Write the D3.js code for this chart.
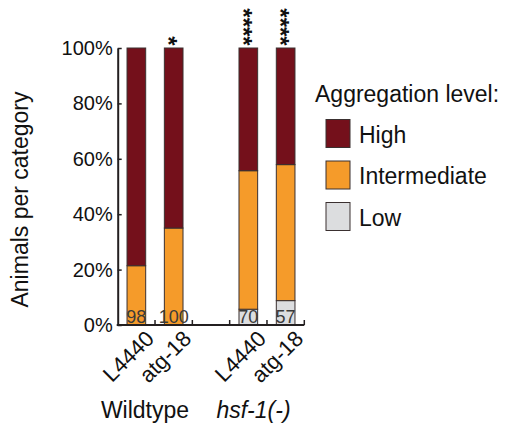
<!DOCTYPE html>
<html><head><meta charset="utf-8">
<script src="https://cdn.jsdelivr.net/npm/d3@7"></script>
<style>body{margin:0;background:#fff}svg{display:block}text{font-family:"Liberation Sans",Arial,sans-serif}</style>
</head><body><svg id="c" width="507" height="427"></svg>
<script>
const slots = ["WT-L4440","WT-atg-18","gap","hsf-L4440","hsf-atg-18"];
const barSlots = ["WT-L4440","WT-atg-18","hsf-L4440","hsf-atg-18"];
const categories = ["L4440","atg-18","L4440","atg-18"];
const groups = ["Wildtype","hsf-1(-)"];
const low = [0, 0, 5.7, 8.8];
const intermediate = [21.4, 35, 50, 49.1];
const high = [78.6, 65, 44.3, 42.1];
const counts = [98, 100, 70, 57];
const stars = ["", "*", "****", "****"];
const yTicks = [0, 20, 40, 60, 80, 100];
const levels = ["High","Intermediate","Low"];
const colors = {High:"#74101b", Intermediate:"#f59b2a", Low:"#dcdddf"};

const svg = d3.select("#c");
const x = d3.scaleBand().domain(slots).range([117.7, 304.3]).paddingInner(0.5).paddingOuter(0.25);
const y = d3.scaleLinear().domain([0, 100]).range([325, 48]);
const axisColor = "#231f20";

// stacked bars
const rows = barSlots.map((s, i) => ({slot: s, Low: low[i], Intermediate: intermediate[i], High: high[i]}));
const stack = d3.stack().keys(["Low","Intermediate","High"])(rows);
svg.append("g").selectAll("g").data(stack).join("g")
  .attr("fill", d => colors[d.key])
  .selectAll("rect").data(d => d.filter(p => p[1] - p[0] > 0)).join("rect")
  .attr("x", d => x(d.data.slot)).attr("width", x.bandwidth())
  .attr("y", d => y(d[1])).attr("height", d => y(d[0]) - y(d[1]))
  .attr("stroke", "#3a3030").attr("stroke-width", 1);

// counts
svg.append("g").selectAll("text").data(counts).join("text")
  .attr("x", (d, i) => x(barSlots[i]) + x.bandwidth() / 2).attr("y", 323)
  .attr("text-anchor", "middle").attr("font-size", 18).attr("fill", "#3a3a3a")
  .text(d => d);

// y axis
const yAxis = svg.append("g").attr("transform", "translate(117.7,0)")
  .call(d3.axisLeft(y).tickValues(yTicks).tickFormat(d => d + "%").tickSizeInner(-4).tickSizeOuter(0).tickPadding(5));
yAxis.select(".domain").attr("stroke", axisColor).attr("stroke-width", 2);
yAxis.selectAll(".tick line").attr("stroke", axisColor).attr("stroke-width", 1.5);
yAxis.selectAll(".tick text").attr("font-size", 20).attr("fill", "#111").attr("font-family", "Liberation Sans, Arial, sans-serif");

// x axis (ticks at slot boundaries, pointing up)
const step = x.step();
const x0 = x.range()[0];
const bounds = d3.range(slots.length + 1).map(k => x0 + k * step);
svg.append("line").attr("x1", x0 - 1).attr("x2", bounds[bounds.length - 1]).attr("y1", 325).attr("y2", 325)
  .attr("stroke", axisColor).attr("stroke-width", 2);
svg.append("g").selectAll("line").data(bounds.slice(1)).join("line")
  .attr("x1", d => d).attr("x2", d => d).attr("y1", 325).attr("y2", 320)
  .attr("stroke", axisColor).attr("stroke-width", 1.5);

// category labels
svg.append("g").selectAll("text").data(categories).join("text")
  .attr("transform", (d, i) => `translate(${x(barSlots[i]) + x.bandwidth() / 2 + 19},340) rotate(-45)`)
  .attr("text-anchor", "end").attr("font-size", 22).attr("fill", "#111").text(d => d);

// group labels
const gx = [145, 253.5];
svg.append("g").selectAll("text").data(groups).join("text")
  .attr("x", (d, i) => gx[i]).attr("y", 418).attr("text-anchor", "middle")
  .attr("font-size", 23).attr("fill", "#111")
  .attr("font-style", (d, i) => i === 1 ? "italic" : "normal").text(d => d);

// significance asterisks: stacked vertically as one rotated text
const starSize = 24, starAdv = 0.389 * starSize;
svg.append("g").selectAll("text").data(stars.map((s, i) => ({s, i})).filter(d => d.s.length)).join("text")
  .attr("transform", d => {
    const cx = x(barSlots[d.i]) + x.bandwidth() / 2;
    const top = 41 - (d.s.length - 1) * starAdv - starAdv / 2;
    return `translate(${cx - 0.575 * starSize},${top}) rotate(90)`;
  })
  .attr("font-size", starSize).attr("font-weight", "bold").attr("fill", "#111").text(d => d.s);

// y title
svg.append("text").attr("transform", "translate(28,199.5) rotate(-90)").attr("text-anchor", "middle")
  .attr("font-size", 23).attr("fill", "#111").text("Animals per category");

// legend
svg.append("text").attr("x", 315).attr("y", 101.7).attr("font-size", 23).attr("fill", "#111").text("Aggregation level:");
const lg = svg.append("g").selectAll("g").data(levels).join("g")
  .attr("transform", (d, i) => `translate(326,${119.5 + i * 41.5})`);
lg.append("rect").attr("width", 24).attr("height", 28).attr("fill", d => colors[d]).attr("stroke", "#3a3030").attr("stroke-width", 1);
lg.append("text").attr("x", 33).attr("y", 23.3).attr("font-size", 23).attr("fill", "#111").text(d => d);
</script></body></html>
